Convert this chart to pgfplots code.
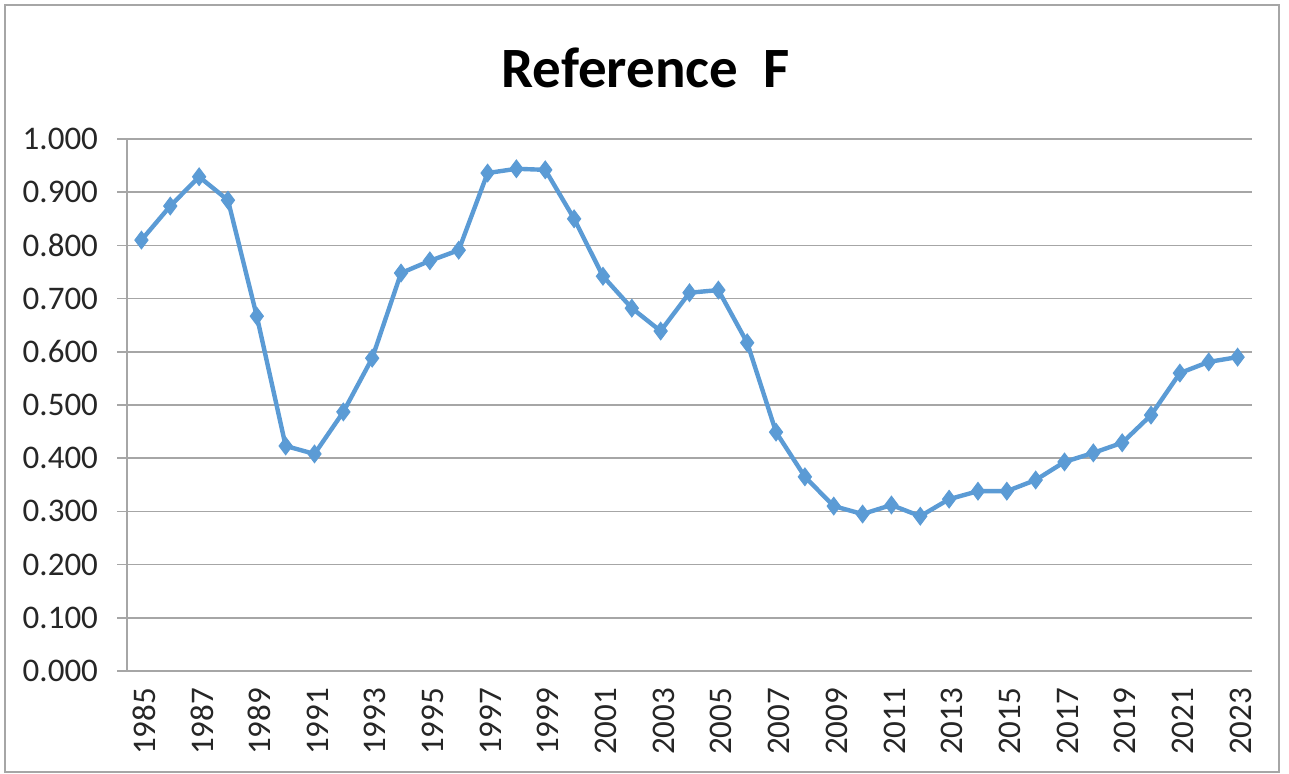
\documentclass[border=0pt]{standalone}
\usepackage{pgfplots}
\pgfplotsset{compat=1.18}
\usepackage{fontspec}
\setmainfont{Carlito}
\definecolor{xlblue}{HTML}{5B9BD5}
\definecolor{gridgray}{HTML}{A6A6A6}
\definecolor{txt}{HTML}{262626}
\begin{document}
\begin{tikzpicture}
\path[use as bounding box] (0,0) rectangle (644.5bp,387bp);
\draw[gridgray, line width=0.8bp] (2.5bp,1bp) rectangle (639.5bp,384.5bp);
\node[font=\bfseries\fontsize{28.5bp}{32bp}\selectfont, text=black] at (323bp,353bp) {Reference~~F};
\begin{axis}[
  at={(63.5bp,51.5bp)}, anchor=south west,
  scale only axis, width=562.5bp, height=266bp,
  xmin=1984.5, xmax=2023.5, ymin=0, ymax=1,
  axis x line*=bottom, axis y line*=left,
  axis line style={gridgray, line width=0.8bp, -},
  xtick={1985,1987,...,2023},
  major x tick style={draw=none},
  extra x ticks={1984.5,1985.5,...,2023.5},
  extra x tick labels={},
  extra x tick style={tick style={gridgray, line width=0.8bp}, major tick length=5bp, tick align=outside, grid=none},
  ytick={0,0.1,...,1.0},
  ymajorgrids, grid style={gridgray, line width=0.8bp},
  ytick style={gridgray, line width=0.8bp}, major tick length=5bp, tick align=outside,
  yticklabel style={/pgf/number format/.cd, fixed, fixed zerofill, precision=3, /tikz/.cd, font=\fontsize{16.5bp}{19bp}\selectfont, text=txt, xshift=-6bp},
  /pgf/number format/assume math mode=true,
  xticklabel style={rotate=90, anchor=east, font=\fontsize{16.5bp}{19bp}\selectfont, text=txt, yshift=-1.5bp, /pgf/number format/1000 sep={}},
  clip=false,
]
\addplot[color=xlblue, line width=2.2bp, mark=diamond*, mark size=4.4bp, mark options={fill=xlblue, draw=xlblue, line width=0.5bp}] coordinates {
(1985,0.810) (1986,0.874) (1987,0.929) (1988,0.885) (1989,0.667)
(1990,0.423) (1991,0.408) (1992,0.487) (1993,0.588) (1994,0.748)
(1995,0.771) (1996,0.791) (1997,0.936) (1998,0.944) (1999,0.942)
(2000,0.850) (2001,0.742) (2002,0.682) (2003,0.639) (2004,0.711)
(2005,0.716) (2006,0.617) (2007,0.449) (2008,0.365) (2009,0.310)
(2010,0.295) (2011,0.312) (2012,0.291) (2013,0.323) (2014,0.338)
(2015,0.338) (2016,0.359) (2017,0.393) (2018,0.410) (2019,0.429)
(2020,0.481) (2021,0.560) (2022,0.581) (2023,0.590)
};
\end{axis}
\end{tikzpicture}
\end{document}
